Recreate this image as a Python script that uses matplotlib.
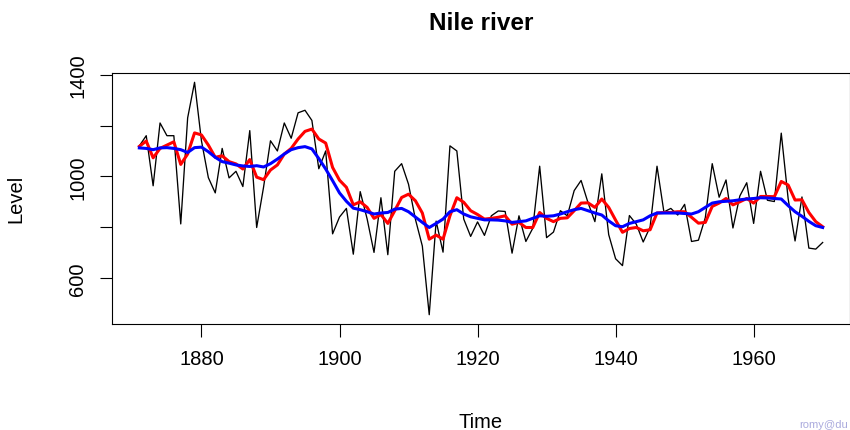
import matplotlib
matplotlib.use("Agg")
import matplotlib.pyplot as plt
import numpy as np

plt.rcParams['font.family'] = ['Liberation Sans', 'DejaVu Sans']

# Nile river annual flow, 1871-1970
years = np.arange(1871, 1971)
level = [1120, 1160, 963, 1210, 1160, 1160, 813, 1230, 1370, 1140,
         995, 935, 1110, 994, 1020, 960, 1180, 799, 958, 1140,
         1100, 1210, 1150, 1250, 1260, 1220, 1030, 1100, 774, 840,
         874, 694, 940, 833, 701, 916, 692, 1020, 1050, 969,
         831, 726, 456, 824, 702, 1120, 1100, 832, 764, 821,
         768, 845, 864, 862, 698, 845, 744, 796, 1040, 759,
         781, 865, 845, 944, 984, 897, 822, 1010, 771, 676,
         649, 846, 812, 742, 801, 1040, 860, 874, 848, 890,
         744, 749, 838, 1050, 918, 986, 797, 923, 975, 815,
         1020, 906, 901, 1170, 912, 746, 919, 718, 714, 740]

# red smoothed curve
smooth_red = [1118, 1139, 1073, 1110, 1123, 1136, 1047, 1088, 1171, 1163,
              1123, 1075, 1081, 1058, 1049, 1029, 1066, 997, 987, 1025,
              1045, 1088, 1110, 1147, 1177, 1186, 1147, 1131, 1035, 985,
              957, 888, 900, 878, 835, 850, 815, 865, 917, 930,
              904, 856, 753, 769, 753, 845, 916, 898, 865, 850,
              832, 835, 839, 845, 812, 819, 799, 799, 858, 835,
              822, 835, 837, 865, 895, 896, 878, 911, 878, 828,
              780, 795, 799, 786, 790, 856, 858, 858, 861, 861,
              839, 816, 819, 882, 895, 913, 888, 900, 913, 895,
              921, 921, 920, 980, 966, 907, 908, 858, 822, 802]

# blue smoothed curve
smooth_blue = [1112, 1110, 1105, 1112, 1113, 1110, 1105, 1094, 1113, 1115,
               1097, 1075, 1058, 1052, 1045, 1041, 1039, 1042, 1037, 1050,
               1068, 1088, 1105, 1113, 1117, 1108, 1070, 1029, 983, 935,
               902, 875, 869, 861, 852, 856, 858, 871, 874, 861,
               840, 819, 799, 815, 832, 861, 869, 852, 841, 835,
               829, 829, 828, 825, 819, 822, 825, 835, 845, 843,
               845, 852, 861, 869, 874, 865, 856, 848, 825, 806,
               802, 815, 822, 829, 845, 856, 856, 856, 856, 854,
               852, 861, 878, 895, 900, 902, 904, 908, 911, 913,
               916, 915, 913, 911, 885, 861, 843, 823, 806, 799]

fig = plt.figure(figsize=(8.5, 4.31), dpi=100)
ax = fig.add_axes([112 / 850, 1 - 325 / 431, 738 / 850, 251 / 431])

ax.plot(years, level, color='black', linewidth=0.95)
ax.plot(years, smooth_red, color='#FF0000', linewidth=2.2)
ax.plot(years, smooth_blue, color='#0000FF', linewidth=2.2)

ax.set_xlim(1867.04, 1973.96)
ax.set_ylim(419.44, 1406.56)

ax.set_xticks([1880, 1900, 1920, 1940, 1960])
ax.set_yticks([600, 800, 1000, 1200, 1400])
ax.set_yticklabels(['600', '', '1000', '', '1400'], rotation=90, va='center')

ax.tick_params(length=9, width=0.8, labelsize=14.5, color='black')
ax.tick_params(axis='x', pad=9)
ax.tick_params(axis='y', pad=9)
for s in ax.spines.values():
    s.set_linewidth(0.8)

fig.text(481 / 850, 1 - 30 / 431, 'Nile river', ha='center', va='baseline',
         fontsize=17.5, fontweight='bold')
fig.text(481 / 850, 1 - 428 / 431, 'Time', ha='center', va='baseline', fontsize=14.5)
fig.text(16 / 850, 1 - 199 / 431, 'Level', ha='center', va='center',
         rotation=90, fontsize=14.5)

# watermark in the bottom-right corner
fig.text(848 / 850, 1 - 428 / 431, 'romy@du', ha='right', va='baseline',
         fontsize=8, color='#AAAADD')

fig.savefig('out.png', dpi=100)
